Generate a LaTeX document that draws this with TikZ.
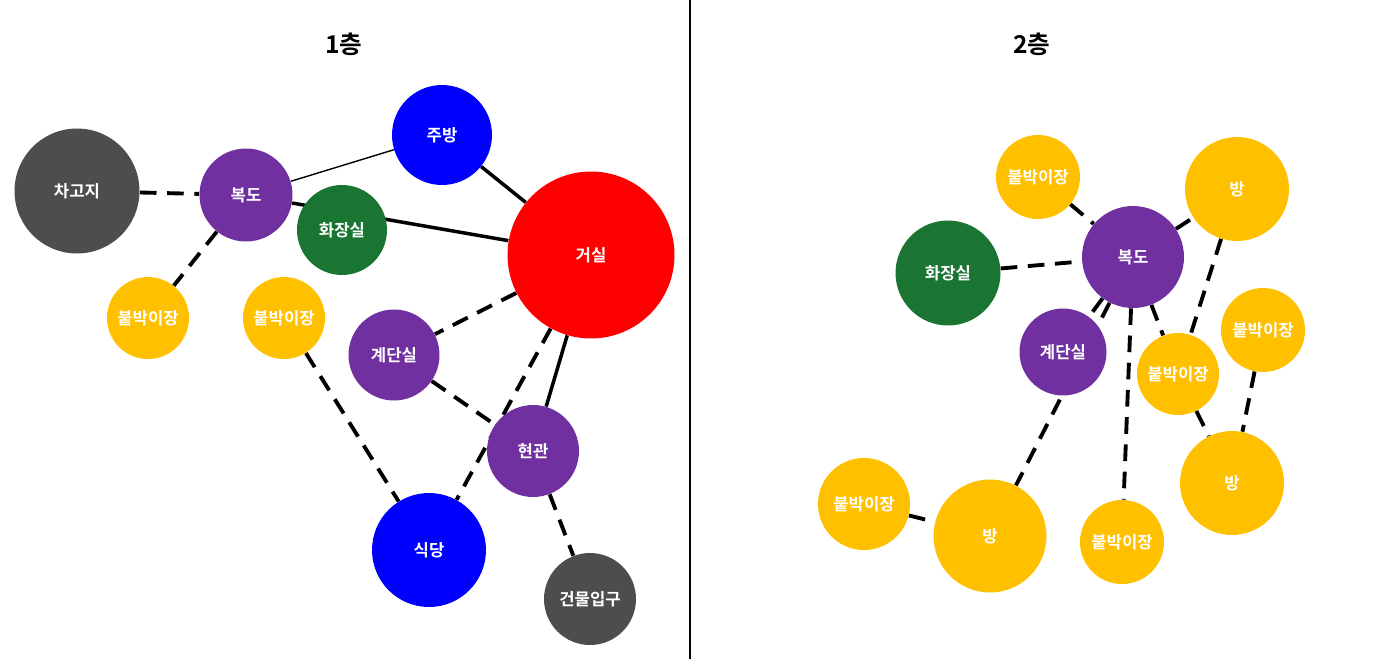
\documentclass[tikz,border=0pt]{standalone}
\usepackage{fontspec}
\newfontfamily\kr{Noto Sans CJK KR Bold}
\usetikzlibrary{backgrounds}

\definecolor{roomgray}{HTML}{4D4D4D}
\definecolor{roompurple}{HTML}{7030A0}
\definecolor{roomblue}{HTML}{0000FF}
\definecolor{roomgreen}{HTML}{1A7533}
\definecolor{roomred}{HTML}{FF0000}
\definecolor{roomgold}{HTML}{FFC000}

\begin{document}
\begin{tikzpicture}[
    x=0.02cm, y=-0.02cm,
    room/.style={circle, inner sep=0pt, text=white, font=\kr\fontsize{9.5}{11}\selectfont},
    title/.style={font=\kr\fontsize{14}{16}\selectfont},
    dashlink/.style={line width=2.2pt, dash pattern=on 9.5pt off 6pt},
    solidlink/.style={line width=2pt},
    thinlink/.style={line width=0.8pt}
]
\useasboundingbox (0,0) rectangle (1378,659);

% Titles and divider
\node[title] (title1) at (344,44) {1층};
\node[title] (title2) at (1032,44) {2층};
\coordinate (divtop) at (690,0);
\coordinate (divbot) at (690,659);
\draw[line width=1.2pt] (divtop) -- (divbot);

% Nodes, 1st floor
\node[room, fill=roomgray, minimum size=2.5cm] (garage) at (77,191) {차고지};
\node[room, fill=roompurple, minimum size=1.86cm] (hall1) at (246,195) {복도};
\node[room, fill=roomblue, minimum size=2cm] (kitchen) at (442,135) {주방};
\node[room, fill=roomgreen, minimum size=1.8cm] (toilet1) at (342,230) {화장실};
\node[room, fill=roomred, minimum size=3.34cm] (living) at (591,255) {거실};
\node[room, fill=roomgold, minimum size=1.64cm] (closet1a) at (148,318) {붙박이장};
\node[room, fill=roomgold, minimum size=1.64cm] (closet1b) at (284,318) {붙박이장};
\node[room, fill=roompurple, minimum size=1.82cm] (stair1) at (394,355) {계단실};
\node[room, fill=roompurple, minimum size=1.84cm] (entrance) at (533,451) {현관};
\node[room, fill=roomblue, minimum size=2.28cm] (dining) at (429,550) {식당};
\node[room, fill=roomgray, minimum size=1.84cm] (mainentry) at (590,599) {건물입구};

% Nodes, 2nd floor
\node[room, fill=roomgold, minimum size=1.68cm] (closet2a) at (1038,177) {붙박이장};
\node[room, fill=roomgold, minimum size=2.08cm] (room2a) at (1237,189) {방};
\node[room, fill=roomgreen, minimum size=2.1cm] (toilet2) at (948,273) {화장실};
\node[room, fill=roompurple, minimum size=2.04cm] (hall2) at (1133,257) {복도};
\node[room, fill=roompurple, minimum size=1.74cm] (stair2) at (1063,352) {계단실};
\node[room, fill=roomgold, minimum size=1.64cm] (closet2b) at (1178,374) {붙박이장};
\node[room, fill=roomgold, minimum size=1.68cm] (closet2c) at (1263,330) {붙박이장};
\node[room, fill=roomgold, minimum size=2.08cm] (room2b) at (1232,483) {방};
\node[room, fill=roomgold, minimum size=2.26cm] (room2c) at (990,536) {방};
\node[room, fill=roomgold, minimum size=1.84cm] (closet2d) at (864,504) {붙박이장};
\node[room, fill=roomgold, minimum size=1.68cm] (closet2e) at (1122,542) {붙박이장};

% Paths
\begin{scope}[on background layer]
\draw[dashlink] (garage) -- (hall1);
\draw[thinlink] (hall1) -- (kitchen);
\draw[solidlink] (hall1) -- (living);
\draw[dashlink] (hall1) -- (closet1a);
\draw[solidlink] (kitchen) -- (living);
\draw[dashlink] (living) -- (stair1);
\draw[dashlink] (living) -- (dining);
\draw[solidlink] (living) -- (entrance);
\draw[dashlink] (stair1) -- (entrance);
\draw[dashlink] (closet1b) -- (dining);
\draw[dashlink] (entrance) -- (mainentry);

\draw[dashlink] (closet2a) -- (hall2);
\draw[dashlink] (hall2) -- (room2a);
\draw[dashlink] (toilet2) -- (hall2);
\draw[dashlink] (hall2) -- (stair2);
\draw[dashlink] (hall2) -- (room2c);
\draw[dashlink] (hall2) -- (closet2e);
\draw[dashlink] (hall2) -- (closet2b);
\draw[dashlink] (room2a) -- (closet2b);
\draw[dashlink] (closet2b) -- (room2b);
\draw[dashlink] (closet2c) -- (room2b);
\draw[dashlink] (closet2d) -- (room2c);
\end{scope}

\end{tikzpicture}
\end{document}
